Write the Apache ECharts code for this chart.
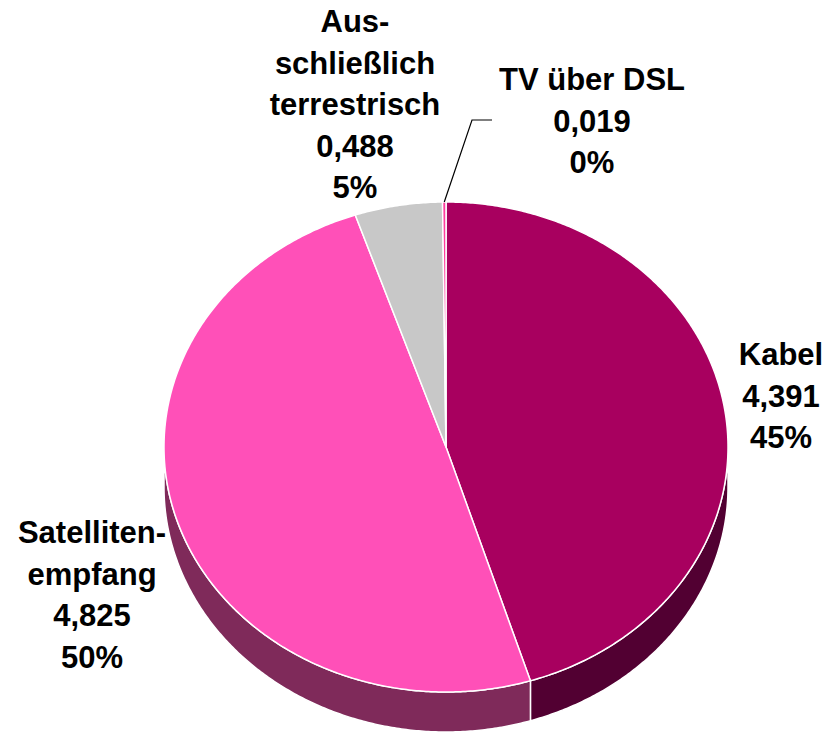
<!DOCTYPE html>
<html><head><meta charset="utf-8">
<script src="https://cdn.jsdelivr.net/npm/echarts@6/dist/echarts.min.js"></script>
<style>html,body{margin:0;padding:0;background:#fff}#c{width:826px;height:733px}</style>
</head><body><div id="c"></div>
<script>
// ---- data ----
const categories = ['Kabel', 'Satelliten-\nempfang', 'Aus-\nschließlich\nterrestrisch', 'TV über DSL'];
const values = [4.391, 4.825, 0.488, 0.019];

// ---- styling / layout ----
const topColors = ['#A8005F', '#FF50B8', '#C8C8C8', '#FF3D9E'];
const sideColors = ['#520032', '#7F2A5A', '#8C8C8C', '#A0205E'];
const labelAnchors = [[781, 334], [92, 512], [355, 1], [592, 59]];
const leaderBends = [null, null, null, [[472, 120], [492, 120]]];
const PIE = { cx: 446, cy: 447, rx: 282, ry: 245, depth: 40 };

const total = values.reduce((a, b) => a + b, 0);
const fmtVal = v => v.toFixed(3).replace('.', ',');
const fmtPct = v => Math.round(v / total * 100) + '%';

function ellPt(a, dy) {
  return [PIE.cx + PIE.rx * Math.cos(a), PIE.cy + PIE.ry * Math.sin(a) + (dy || 0)];
}
function arcPts(a0, a1, dy) {
  const n = Math.max(2, Math.ceil((a1 - a0) / (Math.PI / 360)));
  const pts = [];
  for (let k = 0; k <= n; k++) pts.push(ellPt(a0 + (a1 - a0) * k / n, dy));
  return pts;
}

const chart = echarts.init(document.getElementById('c'), null, { renderer: 'svg', width: 826, height: 733 });
chart.setOption({
  animation: false,
  backgroundColor: '#fff',
  series: [{
    type: 'custom',
    coordinateSystem: 'none',
    data: values.map((v, i) => ({ value: v, name: categories[i] })),
    renderItem: function (params, api) {
      const i = params.dataIndex;
      const v = api.value(0);
      let before = 0;
      for (let k = 0; k < i; k++) before += values[k];
      const a0 = before / total * 2 * Math.PI - Math.PI / 2;
      const a1 = (before + v) / total * 2 * Math.PI - Math.PI / 2;
      const children = [];
      // side wall (visible lower half)
      const s0 = Math.max(a0, 0), s1 = Math.min(a1, Math.PI);
      if (s1 > s0) {
        const topEdge = arcPts(s0, s1, 0);
        const botEdge = arcPts(s0, s1, PIE.depth).reverse();
        children.push({
          type: 'polygon', z2: 1,
          shape: { points: topEdge.concat(botEdge) },
          style: { fill: sideColors[i], stroke: '#fff', lineWidth: 1.5, lineJoin: 'round' }
        });
      }
      // top face
      children.push({
        type: 'polygon', z2: 2,
        shape: { points: [[PIE.cx, PIE.cy]].concat(arcPts(a0, a1, 0)) },
        style: { fill: topColors[i], stroke: '#fff', lineWidth: 1.5, lineJoin: 'round' }
      });
      // leader line
      if (leaderBends[i]) {
        const mid = (a0 + a1) / 2;
        children.push({
          type: 'polyline', z2: 3,
          shape: { points: [ellPt(mid, 0)].concat(leaderBends[i]) },
          style: { stroke: '#000', lineWidth: 1.2, fill: null }
        });
      }
      // label
      children.push({
        type: 'text', z2: 4,
        style: {
          text: categories[i] + '\n' + fmtVal(v) + '\n' + fmtPct(v),
          x: labelAnchors[i][0], y: labelAnchors[i][1],
          align: 'center', verticalAlign: 'top',
          fontFamily: '"Liberation Sans", Arial, sans-serif',
          fontWeight: 'bold', fontSize: 31, lineHeight: 41.5,
          fill: '#000'
        }
      });
      return { type: 'group', children: children };
    }
  }]
});
</script>
</body></html>
